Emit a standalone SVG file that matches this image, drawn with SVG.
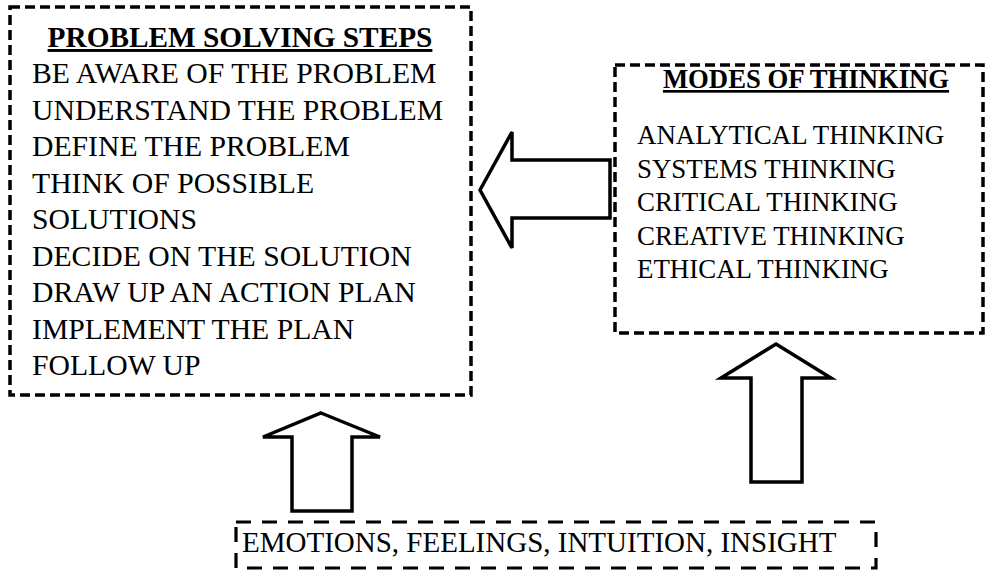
<svg xmlns="http://www.w3.org/2000/svg" width="989" height="571" viewBox="0 0 989 571">
<style>
.box{fill:none;stroke:#000;stroke-width:3.5;stroke-dasharray:10 5}
.box2{fill:none;stroke:#000;stroke-width:3.2;stroke-dasharray:15 11}
.arrow{fill:#fff;stroke:#000;stroke-width:3.5;stroke-linejoin:miter}
.t{font-family:"Liberation Serif","Times New Roman",serif;fill:#000}
.title{font-weight:bold;text-decoration:underline}
</style>
<rect width="989" height="571" fill="#fff"/>
<g id="problem-solving">
<rect class="box" x="10" y="7" width="461" height="388"/>
<text class="t title" x="240" y="47" font-size="29.3" text-anchor="middle">PROBLEM SOLVING STEPS</text>
<g class="t" font-size="29.7">
<text x="32" y="83">BE AWARE OF THE PROBLEM</text>
<text x="32" y="119.5">UNDERSTAND THE PROBLEM</text>
<text x="32" y="156">DEFINE THE PROBLEM</text>
<text x="32" y="192.5">THINK OF POSSIBLE</text>
<text x="32" y="229">SOLUTIONS</text>
<text x="32" y="265.5">DECIDE ON THE SOLUTION</text>
<text x="32" y="302">DRAW UP AN ACTION PLAN</text>
<text x="32" y="338.5">IMPLEMENT THE PLAN</text>
<text x="32" y="375">FOLLOW UP</text>
</g>
</g>
<g id="modes-of-thinking">
<rect class="box" x="615" y="65" width="368" height="268"/>
<text class="t title" x="806" y="88" font-size="26.7" text-anchor="middle">MODES OF THINKING</text>
<g class="t" font-size="26.9">
<text x="637" y="144">ANALYTICAL THINKING</text>
<text x="637" y="177.5">SYSTEMS THINKING</text>
<text x="637" y="211">CRITICAL THINKING</text>
<text x="637" y="244.5">CREATIVE THINKING</text>
<text x="637" y="278">ETHICAL THINKING</text>
</g>
</g>
<g id="emotions">
<rect class="box2" x="236" y="522" width="640" height="46"/>
<text class="t" x="242" y="552" font-size="29">EMOTIONS, FEELINGS, INTUITION, INSIGHT</text>
</g>
<g id="connectors">
<polygon class="arrow" points="480,190 512,132 512,160 610,160 610,218 512,218 512,248"/>
<polygon class="arrow" points="321,413 380,437 352,437 352,511 292,511 292,437 263,437"/>
<polygon class="arrow" points="776,344 831,378 802,378 802,482 751,482 751,378 721,378"/>
</g>
</svg>
